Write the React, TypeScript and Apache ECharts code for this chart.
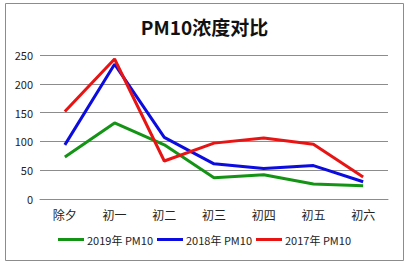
import React, { useEffect, useRef } from "react";
import * as echarts from "echarts";

const categories = ["除夕", "初一", "初二", "初三", "初四", "初五", "初六"];
const pm2019 = [73, 132, 94, 37, 42, 26, 23];
const pm2018 = [94, 234, 107, 61, 53, 58, 30];
const pm2017 = [152, 243, 66, 97, 106, 95, 38];
const seriesNames = ["2019年 PM10", "2018年 PM10", "2017年 PM10"];
const colors = ["#149414", "#0c0ce0", "#e81414"];
const yTicks = { min: 0, max: 250, interval: 50 };

const FONT = "'Noto Sans CJK SC', 'Microsoft YaHei', sans-serif";

export default function App() {
  const ref = useRef<HTMLDivElement>(null);
  useEffect(() => {
    if (!ref.current) return;
    const chart = echarts.init(ref.current, null, { renderer: "svg" });
    const data = [pm2019, pm2018, pm2017];
    chart.setOption({
      animation: false,
      backgroundColor: "#ffffff",
      title: {
        text: "PM10浓度对比",
        left: "center",
        top: 12,
        textStyle: { fontFamily: FONT, fontSize: 19, fontWeight: "bold", color: "#111" },
      },
      graphic: [
        {
          type: "rect",
          shape: { x: 5.5, y: 3.5, width: 398, height: 257 },
          style: { fill: "none", stroke: "#8c8c8c", lineWidth: 1 },
          silent: true,
        },
      ],
      legend: {
        bottom: 14,
        left: "center",
        icon: "rect",
        itemWidth: 26,
        itemHeight: 3,
        itemGap: 4,
        textStyle: { fontFamily: FONT, fontSize: 11, color: "#222", padding: [0, 0, 0, -2] },
        data: seriesNames,
      },
      grid: { left: 40, right: 21, top: 55, bottom: 65 },
      xAxis: {
        type: "category",
        data: categories,
        boundaryGap: true,
        axisLine: { show: true, lineStyle: { color: "#8c8c8c", width: 1 } },
        axisTick: { show: false },
        axisLabel: { fontFamily: FONT, fontSize: 12, color: "#222", margin: 9 },
      },
      yAxis: {
        type: "value",
        min: yTicks.min,
        max: yTicks.max,
        interval: yTicks.interval,
        axisLine: { show: false },
        axisTick: { show: false },
        axisLabel: { fontFamily: FONT, fontSize: 11, color: "#222", margin: 7 },
        splitLine: { lineStyle: { color: "#8c8c8c", width: 1 } },
      },
      series: seriesNames.map((name, i) => ({
        name,
        type: "line",
        data: data[i],
        symbol: "none",
        itemStyle: { color: colors[i] },
        lineStyle: { color: colors[i], width: 3 },
      })),
    });
    return () => chart.dispose();
  }, []);
  return (
    <div
      ref={ref}
      style={{ position: "fixed", left: 0, top: 0, width: 409, height: 264 }}
    />
  );
}
